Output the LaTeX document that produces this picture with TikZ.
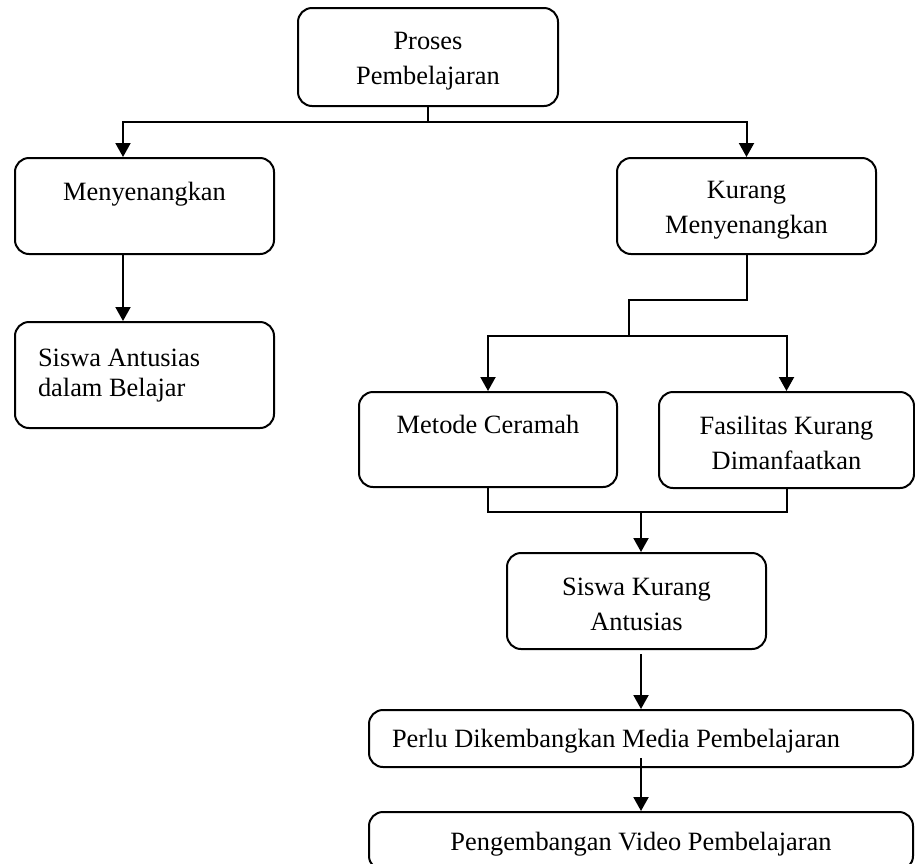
\documentclass[tikz,border=0pt]{standalone}
\usepackage{fontspec}
\setmainfont{Liberation Serif}
\usetikzlibrary{arrows.meta}

\begin{document}
\begin{tikzpicture}[x=0.5pt, y=-0.5pt,
   box/.style={draw, line width=1pt, rounded corners=7pt, align=center,
      minimum width=129.5pt, minimum height=48pt, inner sep=0pt,
      font=\fontsize{13.2}{17.5}\selectfont},
   leftbox/.style={box, align=flush left, inner xsep=11.5pt},
   oneline/.style={text height=12pt, text depth=18pt},
   twoline/.style={text height=30pt},
   link/.style={line width=1pt},
   arrow/.style={link, -{Triangle[length=7pt, width=7.5pt]}}]

\useasboundingbox (0,0) rectangle (915,863);

\node[box, twoline, minimum width=130pt, minimum height=49pt] (proses) at (428,57) {Proses\\Pembelajaran};
\node[box, oneline] (senang) at (144.5,206) {Menyenangkan};
\node[box, twoline] (kurang) at (746.5,206) {Kurang\\Menyenangkan};
\node[leftbox, text width=106.5pt, minimum height=53pt, text height=9pt,
      font=\fontsize{13.2}{15}\selectfont] (antusias) at (144.5,375) {Siswa Antusias\\dalam Belajar};
\node[box, oneline, minimum width=129pt, minimum height=47.5pt] (metode) at (488,439.5) {Metode Ceramah};
\node[box, twoline, minimum width=127.5pt] (fasil) at (786.5,440) {Fasilitas Kurang\\Dimanfaatkan};
\node[box, twoline] (kurangant) at (636.5,601) {Siswa Kurang\\Antusias};
\node[leftbox, text width=249pt, minimum height=28.5pt, text height=12pt] (perlu) at (641,738.5) {Perlu Dikembangkan Media Pembelajaran};
\node[box, minimum width=272pt, minimum height=29pt, text height=12pt] (video) at (641,841) {Pengembangan Video Pembelajaran};

% proses -> menyenangkan / kurang menyenangkan
\coordinate (fork) at (428,122);
\draw[link] (proses.south) -- (fork);
\draw[arrow] (fork) -| ([xshift=-10.75pt]senang.north);
\draw[arrow] (fork) -| (kurang.north);
\draw[arrow] ([xshift=-10.75pt]senang.south) -- ([xshift=-10.75pt]antusias.north);

% kurang menyenangkan -> sebab
\coordinate (bend) at (629,300);
\coordinate (fork2) at (629,336);
\draw[link] (kurang.south) |- (bend) -- (fork2);
\draw[arrow] (fork2) -| (metode.north);
\draw[arrow] (fork2) -| (fasil.north);

% sebab -> akibat
\coordinate (join) at (641,512);
\draw[link] (metode.south) |- (join) -| (fasil.south);
\draw[arrow] (join) -- (join |- kurangant.north);
\draw[arrow] ([yshift=27.5pt]perlu.north) -- (perlu.north);
\draw[arrow] ([yshift=5pt]perlu.south) -- (video.north);

\end{tikzpicture}
\end{document}
